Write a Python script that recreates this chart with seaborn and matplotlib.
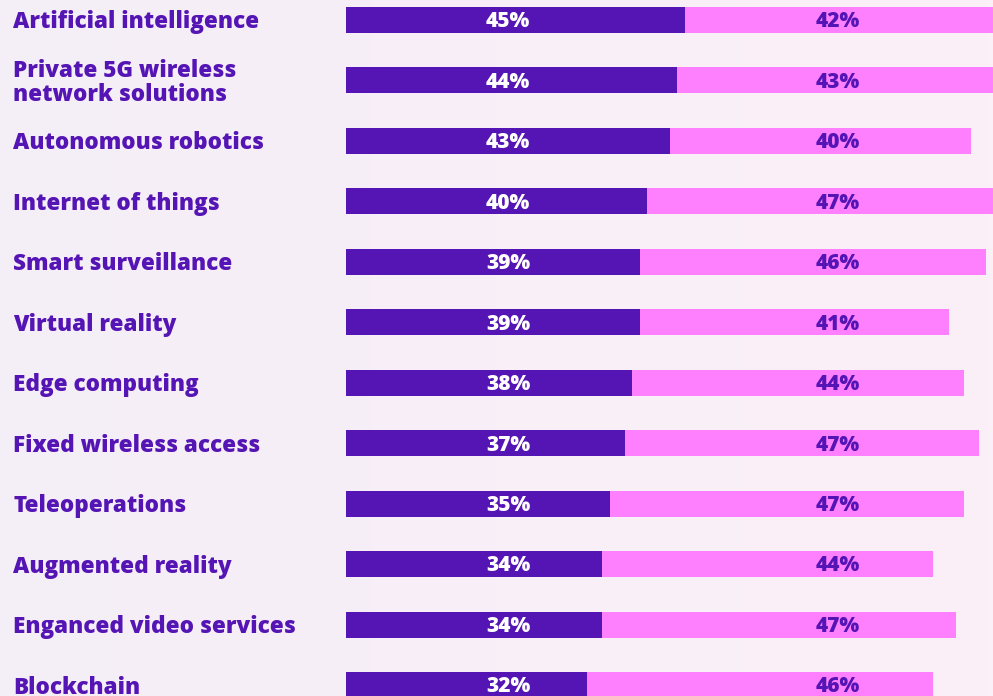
import numpy as np
import pandas as pd
import seaborn as sns
import matplotlib.pyplot as plt
from matplotlib.colors import LinearSegmentedColormap
from matplotlib.transforms import blended_transform_factory

categories = [
    "Artificial intelligence",
    "Private 5G wireless\nnetwork solutions",
    "Autonomous robotics",
    "Internet of things",
    "Smart surveillance",
    "Virtual reality",
    "Edge computing",
    "Fixed wireless access",
    "Teleoperations",
    "Augmented reality",
    "Enganced video services",
    "Blockchain",
]
first_share = [45, 44, 43, 40, 39, 39, 38, 37, 35, 34, 34, 32]
second_share = [42, 43, 40, 47, 46, 41, 44, 47, 47, 44, 47, 46]

DARK = "#5514B4"
PINK = "#FF80FF"

df = pd.DataFrame({"category": categories, "first": first_share, "second": second_share})
df["total"] = df["first"] + df["second"]

sns.set_theme(style="white")
plt.rcParams["font.family"] = ["Open Sans", "DejaVu Sans"]

fig = plt.figure(figsize=(9.93, 6.96), dpi=100)

# soft background gradient
bg = fig.add_axes([0, 0, 1, 1], zorder=-1)
cmap = LinearSegmentedColormap.from_list("bg", ["#F4EEF7", "#FCF0F8"])
bg.imshow(np.linspace(0, 1, 256).reshape(1, -1), aspect="auto", cmap=cmap, extent=[0, 1, 0, 1])
bg.axis("off")

ax = fig.add_axes([346 / 993, 0, 1 - 346 / 993, 1])
ax.patch.set_alpha(0)

sns.barplot(data=df, x="total", y="category", color=PINK, orient="h",
            width=0.43, saturation=1, linewidth=0, ax=ax)
sns.barplot(data=df, x="first", y="category", color=DARK, orient="h",
            width=0.43, saturation=1, linewidth=0, ax=ax)

pink_bars = ax.containers[0]
for bar, a, b in zip(pink_bars, df["first"], df["second"]):
    bar.set_x(a)
    bar.set_width(b)

# value labels sit in two fixed columns, not centred on each segment
for i, (a, b) in enumerate(zip(df["first"], df["second"])):
    ax.text(21.5, i + 0.03, f"{a}%", ha="center", va="center",
            color="white", fontsize=15, fontweight="heavy")
    ax.text(65.3, i + 0.03, f"{b}%", ha="center", va="center",
            color=DARK, fontsize=15, fontweight="heavy")

ax.set_xlim(0, 85.9)
ax.set_ylim(11.18, -0.33)
ax.set_xlabel("")
ax.set_ylabel("")
ax.set_xticks([])
ax.set_yticks([])
sns.despine(ax=ax, left=True, bottom=True)

trans = blended_transform_factory(fig.transFigure, ax.transData)
for i, cat in enumerate(categories):
    ax.text(13 / 993, i + 0.04, cat, transform=trans, ha="left", va="center",
            fontsize=16.2, fontweight="heavy", color=DARK, linespacing=1.02,
            clip_on=False)

fig.savefig("out.png", dpi=100)
